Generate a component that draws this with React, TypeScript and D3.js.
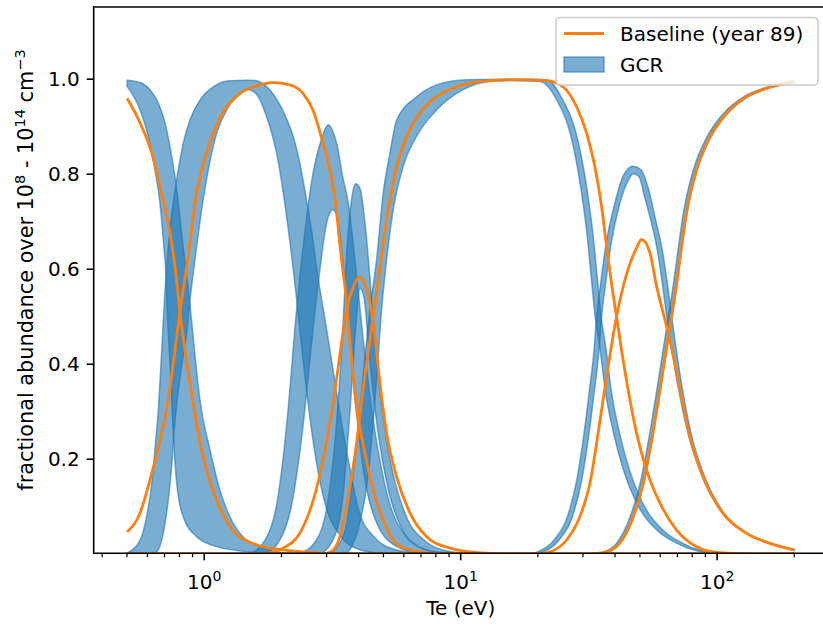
import React from 'react';
import * as d3 from 'd3';

type P = [number, number];

// Baseline (year 89) fractional abundances: [Te (eV), fraction]
const baseline0: P[] = [[0.5,0.96],[0.562,0.908],[0.624,0.845],[0.682,0.76],[0.735,0.677],[0.785,0.565],[0.804,0.51],[0.841,0.43],[0.88,0.36],[0.977,0.22],[1.118,0.114],[1.294,0.051],[1.6,0.02],[2.03,0.009],[3,0.002],[5,0],[200,0]];
const baseline1: P[] = [[0.5,0.047],[0.562,0.087],[0.614,0.156],[0.672,0.24],[0.724,0.325],[0.769,0.43],[0.804,0.51],[0.854,0.605],[0.934,0.76],[1.053,0.866],[1.183,0.93],[1.378,0.97],[1.6,0.986],[1.853,0.993],[2.159,0.988],[2.426,0.97],[2.653,0.935],[2.902,0.866],[3.091,0.81],[3.283,0.72],[3.381,0.65],[3.592,0.53],[3.698,0.45],[3.929,0.31],[4.232,0.213],[4.56,0.135],[4.988,0.072],[5.456,0.03],[6.152,0.011],[8,0.002],[12,0],[200,0]];
const baseline2: P[] = [[0.5,0],[1.5,0],[1.8,0.003],[2.032,0.013],[2.361,0.045],[2.661,0.114],[2.911,0.2],[3.139,0.297],[3.331,0.395],[3.484,0.47],[3.592,0.515],[3.8,0.56],[4.017,0.584],[4.297,0.56],[4.426,0.53],[4.629,0.46],[4.842,0.36],[5.142,0.255],[5.625,0.163],[6.339,0.087],[7.364,0.037],[9.077,0.013],[12,0.003],[20,0],[200,0]];
const baseline3: P[] = [[0.5,0],[2.8,0],[3.0,0.002],[3.184,0.009],[3.381,0.037],[3.698,0.142],[3.929,0.234],[4.168,0.35],[4.426,0.45],[4.699,0.55],[4.988,0.655],[5.297,0.746],[5.625,0.816],[6.152,0.879],[6.934,0.929],[8.054,0.963],[9.638,0.984],[12.24,0.996],[16,0.999],[21.62,0.997],[25.09,0.984],[28.31,0.942],[30.96,0.887],[33.36,0.816],[35.43,0.732],[37.06,0.648],[38.75,0.57],[40.53,0.5],[42.39,0.43],[44.98,0.346],[48.52,0.255],[53.06,0.177],[59.79,0.108],[69.47,0.051],[83.13,0.016],[96.2,0.005],[130,0.001],[200,0]];
const baseline4: P[] = [[0.5,0],[18,0],[20,0.001],[22.27,0.005],[25.87,0.03],[29.15,0.079],[31.9,0.149],[34.36,0.255],[37.06,0.374],[40.53,0.5],[44.36,0.59],[48.52,0.645],[50.73,0.663],[54.66,0.635],[58.03,0.565],[63.49,0.48],[66.4,0.435],[71.54,0.35],[78.26,0.248],[88.19,0.163],[105.5,0.086],[130.2,0.044],[160.6,0.023],[200,0.009]];
const baseline5: P[] = [[0.5,0],[30,0],[33,0.001],[37.06,0.005],[41.74,0.024],[47.05,0.079],[51.46,0.149],[54.66,0.22],[59.79,0.346],[65.4,0.48],[69.47,0.57],[72.5,0.645],[75.97,0.72],[83.13,0.81],[93.65,0.878],[108.8,0.928],[130.2,0.963],[160.6,0.983],[200,0.995]];

// GCR bands (upper / lower envelopes over densities)
const gcr0Hi: P[] = [[0.5,0.998],[0.562,0.993],[0.614,0.978],[0.662,0.95],[0.703,0.908],[0.735,0.858],[0.776,0.78],[0.823,0.66],[0.88,0.525],[0.92,0.42],[0.962,0.325],[1.053,0.22],[1.151,0.135],[1.259,0.079],[1.415,0.037],[1.649,0.016],[1.916,0.005],[2.4,0.001],[3,0]];
const gcr0Lo: P[] = [[0.5,0.985],[0.562,0.935],[0.605,0.879],[0.642,0.809],[0.672,0.739],[0.692,0.662],[0.709,0.584],[0.717,0.514],[0.737,0.39],[0.757,0.255],[0.781,0.149],[0.828,0.079],[0.934,0.037],[1.118,0.016],[1.338,0.008],[1.7,0.002],[2.2,0]];
const gcr1Hi: P[] = [[0.5,0.003],[0.562,0.03],[0.596,0.079],[0.624,0.149],[0.642,0.22],[0.662,0.304],[0.678,0.4],[0.697,0.52],[0.722,0.64],[0.776,0.78],[0.792,0.809],[0.828,0.865],[0.88,0.914],[0.962,0.956],[1.084,0.984],[1.259,0.997],[1.463,0.998],[1.601,0.997],[1.698,0.99],[1.8,0.978],[1.916,0.958],[2.101,0.915],[2.25,0.87],[2.361,0.822],[2.47,0.765],[2.606,0.69],[2.776,0.584],[2.916,0.514],[3.091,0.43],[3.328,0.32],[3.7,0.18],[4.017,0.09],[4.629,0.035],[5.53,0.01],[6.93,0.002],[9,0]];
const gcr1Lo: P[] = [[0.5,0],[0.6,0],[0.652,0.005],[0.692,0.044],[0.724,0.114],[0.746,0.184],[0.762,0.255],[0.785,0.325],[0.816,0.395],[0.854,0.465],[0.88,0.535],[0.92,0.62],[0.977,0.725],[1.037,0.809],[1.118,0.886],[1.223,0.935],[1.378,0.97],[1.48,0.978],[1.601,0.968],[1.74,0.925],[1.938,0.83],[2.12,0.69],[2.278,0.55],[2.404,0.43],[2.537,0.32],[2.726,0.2],[2.982,0.1],[3.381,0.04],[4.017,0.01],[4.842,0.002],[6,0]];
const gcr2Hi: P[] = [[1.507,0.002],[1.725,0.03],[1.938,0.12],[2.12,0.3],[2.278,0.5],[2.47,0.68],[2.653,0.8],[2.851,0.87],[3.043,0.904],[3.2,0.885],[3.3,0.86],[3.45,0.8],[3.642,0.74],[3.904,0.6],[4.232,0.42],[4.629,0.26],[5.202,0.12],[6.075,0.04],[7.271,0.01],[9.077,0.002]];
const gcr2Lo: P[] = [[1.507,0],[1.725,0.002],[1.972,0.03],[2.184,0.1],[2.404,0.25],[2.63,0.45],[2.826,0.6],[3.009,0.7],[3.176,0.725],[3.351,0.69],[3.568,0.55],[3.833,0.35],[4.194,0.17],[4.756,0.06],[5.692,0.015],[6.934,0.002],[9.077,0]];
const gcr3Hi: P[] = [[2.361,0.002],[2.741,0.03],[3.009,0.1],[3.25,0.25],[3.45,0.45],[3.6,0.64],[3.75,0.745],[3.904,0.78],[4.05,0.77],[4.23,0.7],[4.4,0.6],[4.55,0.5],[4.84,0.34],[5.3,0.2],[6.075,0.085],[7.27,0.028],[9.08,0.006],[11.85,0.001]];
const gcr3Lo: P[] = [[2.361,0],[2.826,0.002],[3.176,0.03],[3.47,0.12],[3.7,0.3],[3.9,0.48],[4.05,0.56],[4.2,0.54],[4.4,0.42],[4.75,0.26],[5.2,0.14],[5.88,0.055],[6.93,0.015],[8.5,0.002],[11.85,0]];
const gcr4Hi: P[] = [[3.09,0],[3.538,0.05],[3.868,0.2],[4.12,0.35],[4.426,0.514],[4.699,0.62],[4.988,0.76],[5.297,0.844],[5.63,0.914],[6.731,0.963],[8.054,0.988],[10.54,0.999],[15,1.0],[20,1.0],[21.88,0.998],[25.02,0.956],[28.2,0.886],[30.85,0.78],[32.76,0.676],[34.27,0.57],[35.3,0.5],[36.93,0.43],[38.62,0.346],[41.65,0.255],[45.56,0.177],[51.32,0.107],[61.42,0.051],[73.5,0.023],[85.6,0.009],[112,0.002],[150,0]];
const gcr4Lo: P[] = [[3.09,0],[3.538,0.002],[4.017,0.06],[4.426,0.2],[4.672,0.35],[4.916,0.514],[5.142,0.62],[5.456,0.725],[5.968,0.816],[6.731,0.88],[8.054,0.935],[10.23,0.978],[13,0.995],[16,0.997],[20.36,0.995],[23.71,0.956],[26.73,0.886],[29.24,0.78],[31.05,0.676],[32.47,0.57],[33.45,0.5],[34.99,0.43],[36.6,0.346],[39.47,0.255],[43.16,0.177],[48.64,0.107],[58.2,0.051],[69.65,0.023],[81.15,0.009],[100,0.002],[150,0]];
const gcr5Hi: P[] = [[18,0],[19.91,0.005],[23.13,0.03],[26.06,0.079],[28.51,0.163],[30.28,0.255],[31.67,0.339],[33.12,0.43],[33.9,0.5],[35.14,0.57],[36.75,0.648],[39.63,0.732],[43.36,0.8],[47.05,0.817],[50.42,0.81],[53.93,0.77],[57.57,0.704],[61.15,0.64],[63.96,0.57],[66.9,0.49],[72.86,0.355],[79.33,0.252],[89.17,0.165],[106.2,0.087],[130.6,0.045],[160.6,0.024],[200,0.01]];
const gcr5Lo: P[] = [[18,0],[20.82,0.005],[24.19,0.03],[27.26,0.079],[29.82,0.163],[31.67,0.255],[33.12,0.339],[34.64,0.43],[35.45,0.5],[36.75,0.57],[38.45,0.648],[41.45,0.732],[45.35,0.79],[47.05,0.801],[49.53,0.795],[52.26,0.75],[55.05,0.704],[58.46,0.64],[61.15,0.57],[63.96,0.49],[70.28,0.355],[77.21,0.252],[87.19,0.165],[104.8,0.087],[129.7,0.044],[160.6,0.022],[200,0.008]];
const gcr6Hi: P[] = [[33,0],[36.07,0.005],[40.64,0.024],[45.8,0.079],[50.1,0.149],[53.2,0.22],[58.2,0.346],[63.66,0.48],[67.6,0.57],[70.6,0.645],[73.96,0.72],[80.9,0.81],[91.2,0.878],[105.9,0.928],[126.8,0.963],[156.2,0.983],[200,0.997]];
const gcr6Lo: P[] = [[33,0],[37.2,0.005],[41.9,0.023],[47.2,0.077],[51.6,0.146],[54.8,0.216],[60,0.34],[65.6,0.475],[69.7,0.565],[72.7,0.64],[76.2,0.715],[83.4,0.806],[94,0.875],[109,0.926],[130.5,0.962],[161,0.982],[200,0.993]];

const baselines: P[][] = [baseline0, baseline1, baseline2, baseline3, baseline4, baseline5];
const gcrBands: [P[], P[]][] = [[gcr0Hi, gcr0Lo],[gcr1Hi, gcr1Lo],[gcr2Hi, gcr2Lo],[gcr3Hi, gcr3Lo],[gcr4Hi, gcr4Lo],[gcr5Hi, gcr5Lo],[gcr6Hi, gcr6Lo]];

const yTicks = [0.2, 0.4, 0.6, 0.8, 1.0];
const xMajor = [1, 10, 100];
const xMajorExp = ['0', '1', '2'];
const xMinor = [0.4,0.5,0.6,0.7,0.8,0.9,2,3,4,5,6,7,8,9,20,30,40,50,60,70,80,90,200];

const ORANGE = '#ff7f0e';
const BLUE = '#1f77b4';
const FONT = 'DejaVu Sans, sans-serif';

export default function App() {
  const W = 823, H = 626;
  const L = 93.7, R = 827.9, T = 7, B = 553.3;
  const x = d3.scaleLog().domain([0.3706, 270.4]).range([L, R]);
  const y = d3.scaleLinear().domain([0.002, 1.152]).range([B, T]);
  const line = d3.line<P>().x(d => x(d[0])).y(d => y(d[1])).curve(d3.curveMonotoneX);
  const bandPath = (hi: P[], lo: P[]) => {
    const a = line(hi) || '';
    const b = line(lo.slice().reverse()) || '';
    return a + b.replace(/^M/, 'L') + 'Z';
  };
  return (
    <svg width={W} height={H} style={{ position: 'absolute', left: 0, top: 0, background: '#fff' }} fontFamily={FONT}>
      <defs>
        <clipPath id="plotclip"><rect x={L} y={T} width={R - L} height={B - T} /></clipPath>
      </defs>
      <rect x={0} y={0} width={W} height={H} fill="#fff" />
      <g clipPath="url(#plotclip)">
        {gcrBands.map(([hi, lo], i) => (
          <path key={'b' + i} d={bandPath(hi, lo)} fill={BLUE} fillOpacity={0.6} stroke={BLUE} strokeOpacity={0.6} strokeWidth={1.5} strokeLinejoin="round" />
        ))}
        {baselines.map((s, i) => (
          <path key={'l' + i} d={line(s) || ''} fill="none" stroke={ORANGE} strokeWidth={2.8} strokeLinejoin="round" strokeLinecap="butt" />
        ))}
      </g>
      <g stroke="#000" strokeWidth={1.6} fill="none" strokeLinecap="square">
        <line x1={L} y1={T} x2={L} y2={B} />
        <line x1={L} y1={B} x2={R} y2={B} />
        <line x1={L} y1={T} x2={R} y2={T} />
        <line x1={R} y1={T} x2={R} y2={B} />
      </g>
      {yTicks.map(t => (
        <g key={'y' + t}>
          <line x1={L - 7} x2={L} y1={y(t)} y2={y(t)} stroke="#000" strokeWidth={1.6} />
          <text x={L - 14} y={y(t) + 7} fontSize={20} textAnchor="end" fill="#000">{t.toFixed(1)}</text>
        </g>
      ))}
      {xMinor.map(t => (
        <line key={'m' + t} x1={x(t)} x2={x(t)} y1={B} y2={B + 4} stroke="#000" strokeWidth={1.2} />
      ))}
      {xMajor.map((t, i) => (
        <g key={'x' + t}>
          <line x1={x(t)} x2={x(t)} y1={B} y2={B + 7} stroke="#000" strokeWidth={1.6} />
          <text x={x(t)} y={589} fontSize={20} textAnchor="middle" fill="#000">10<tspan fontSize={14} dy={-8}>{xMajorExp[i]}</tspan></text>
        </g>
      ))}
      <text x={(L + R) / 2} y={615} fontSize={20} textAnchor="middle" fill="#000">Te (eV)</text>
      <text transform={`translate(33, 270) rotate(-90)`} fontSize={20.8} textAnchor="middle" fill="#000">
        fractional abundance over 10<tspan fontSize={14.5} dy={-8}>8</tspan><tspan dy={8}> - 10</tspan><tspan fontSize={14.5} dy={-8}>14</tspan><tspan dy={8}> cm</tspan><tspan fontSize={14.5} dy={-8}>−3</tspan>
      </text>
      <g>
        <rect x={556} y={17.5} width={262} height={67.5} rx={4} fill="#fff" fillOpacity={0.8} stroke="#cccccc" strokeWidth={1.6} />
        <line x1={564} x2={604} y1={33.5} y2={33.5} stroke={ORANGE} strokeWidth={2.8} />
        <rect x={564} y={57} width={40} height={15} fill={BLUE} fillOpacity={0.6} stroke={BLUE} strokeOpacity={0.6} strokeWidth={1.5} />
        <text x={620} y={40.5} fontSize={20} fill="#000">Baseline (year 89)</text>
        <text x={620} y={71.5} fontSize={20} fill="#000">GCR</text>
      </g>
    </svg>
  );
}
